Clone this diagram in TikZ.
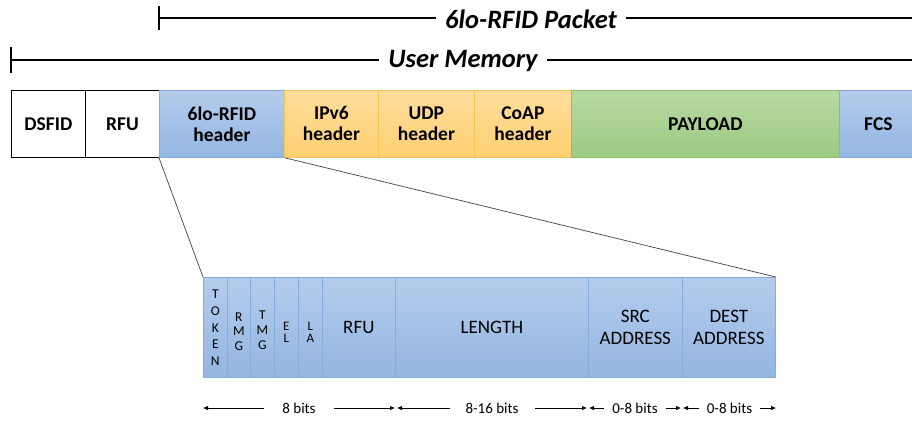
\documentclass[tikz,border=0pt]{standalone}
\usepackage{fontspec}
\setmainfont{Carlito}
\usetikzlibrary{arrows.meta}

\definecolor{blueTop}{HTML}{B4CCEC}
\definecolor{blueBot}{HTML}{93B6E2}
\definecolor{blueEdge}{HTML}{86ACDD}
\definecolor{orTop}{HTML}{FFDD9E}
\definecolor{orBot}{HTML}{FFD071}
\definecolor{orEdge}{HTML}{F2C34E}
\definecolor{grTop}{HTML}{B8D9A4}
\definecolor{grBot}{HTML}{9CCA82}
\definecolor{grEdge}{HTML}{8CBF6E}

\tikzset{
  field/.style={rectangle, anchor=north west, inner sep=0pt, minimum height=67pt,
    align=center, font=\fontsize{19.5}{21}\selectfont\bfseries},
  plainfield/.style={field, draw=black, line width=0.8pt, fill=white},
  bluefield/.style={field, draw=blueEdge, line width=0.8pt, top color=blueTop, bottom color=blueBot},
  orfield/.style={field, draw=orEdge, line width=0.8pt, top color=orTop, bottom color=orBot},
  grfield/.style={field, draw=grEdge, line width=0.8pt, top color=grTop, bottom color=grBot},
  subfield/.style={rectangle, anchor=north west, inner sep=0pt, minimum height=100pt,
    draw=blueEdge, line width=0.7pt, top color=blueTop, bottom color=blueBot,
    align=center, font=\fontsize{19}{22.7}\selectfont},
  vletters/.style={inner sep=0pt, align=center},
  titlelabel/.style={fill=white, inner xsep=9pt, inner ysep=2pt,
    font=\fontsize{26.5}{30}\selectfont\bfseries\itshape},
  spanline/.style={line width=1.4pt},
  zoomline/.style={draw=black!75, line width=0.7pt},
  bitspan/.style={{Latex[length=5pt,width=4.5pt]}-{Latex[length=5pt,width=4.5pt]}, line width=0.7pt},
  bitlabel/.style={fill=white, inner ysep=2pt, font=\fontsize{15}{18}\selectfont}
}

\begin{document}
\begin{tikzpicture}[x=1pt, y=-1pt]
\useasboundingbox (0,0) rectangle (912,421);

% span markers above the memory layout
\coordinate (pktL) at (159,18);
\coordinate (pktR) at (915,18);
\coordinate (memL) at (11,60);
\coordinate (memR) at (915,60);
\draw[spanline] (pktL) -- (pktR);
\draw[spanline] (159,6) -- (159,30);
\node[titlelabel] (pkt) at (531,19) {6lo-RFID Packet};
\draw[spanline] (memL) -- (memR);
\draw[spanline] (11,47) -- (11,73);
\node[titlelabel] (mem) at (463,61) {User Memory};

% user memory layout
\node[plainfield, minimum width=74pt]  (dsfid) at (11,90)  {DSFID};
\node[plainfield, minimum width=74pt]  (rfu)   at (85,90)  {RFU};
\node[bluefield,  minimum width=125pt] (hdr)   at (159,90) {6lo-RFID\\header};
\node[orfield,    minimum width=94pt]  (ipv6)  at (284,90) {IPv6\\header};
\node[orfield,    minimum width=96pt]  (udp)   at (378,90) {UDP\\header};
\node[orfield,    minimum width=97pt]  (coap)  at (474,90) {CoAP\\header};
\node[grfield,    minimum width=268pt] (pay)   at (571,90) {PAYLOAD};
\node[bluefield,  minimum width=78pt]  (fcs)   at (839,90) {FCS};

% 6lo-RFID header fields
\node[subfield, minimum width=24pt]  (token) at (203,277) {};
\node[subfield, minimum width=23pt]  (rmg)   at (227,277) {};
\node[subfield, minimum width=24pt]  (tmg)   at (250,277) {};
\node[subfield, minimum width=24pt]  (el)    at (274,277) {};
\node[subfield, minimum width=24pt]  (la)    at (298,277) {};
\node[subfield, minimum width=73pt]  (hrfu)  at (322,277) {RFU};
\node[subfield, minimum width=193pt] (len)   at (395,277) {LENGTH};
\node[subfield, minimum width=94pt]  (src)   at (588,277) {SRC\\ADDRESS};
\node[subfield, minimum width=93pt]  (dest)  at (682,277) {DEST\\ADDRESS};

\node[vletters, font=\fontsize{13.5}{16.7}\selectfont] (tokenT) at ([yshift=-0.5pt]token.center) {T\\O\\K\\E\\N};
\node[vletters, font=\fontsize{13.5}{14.5}\selectfont] (rmgT)   at ([yshift=-4pt]rmg.center) {R\\M\\G};
\node[vletters, font=\fontsize{13.5}{15}\selectfont]   (tmgT)   at ([yshift=-3pt]tmg.center) {T\\M\\G};
\node[vletters, font=\fontsize{13}{11.8}\selectfont]   (elT)    at ([yshift=-5pt]el.center) {E\\L};
\node[vletters, font=\fontsize{13}{11.8}\selectfont]   (laT)    at ([yshift=-5pt]la.center) {L\\A};

% zoom lines from the header to its fields
\draw[zoomline] (hdr.south west) -- (token.north west);
\draw[zoomline] (hdr.south east) -- (dest.north east);

% field sizes
\coordinate (s0) at (203,408);
\coordinate (s1) at (395,408);
\coordinate (s2) at (397,408);
\coordinate (s3) at (587,408);
\coordinate (s4) at (589,408);
\coordinate (s5) at (681,408);
\coordinate (s6) at (683,408);
\coordinate (s7) at (776,408);
\draw[bitspan] (s0) -- (s1) node[bitlabel, inner xsep=18pt, midway] (b1) {8 bits};
\draw[bitspan] (s2) -- (s3) node[bitlabel, inner xsep=16pt, midway] (b2) {8-16 bits};
\draw[bitspan] (s4) -- (s5) node[bitlabel, inner xsep=8pt, midway] (b3) {0-8 bits};
\draw[bitspan] (s6) -- (s7) node[bitlabel, inner xsep=8pt, midway] (b4) {0-8 bits};
\end{tikzpicture}
\end{document}
